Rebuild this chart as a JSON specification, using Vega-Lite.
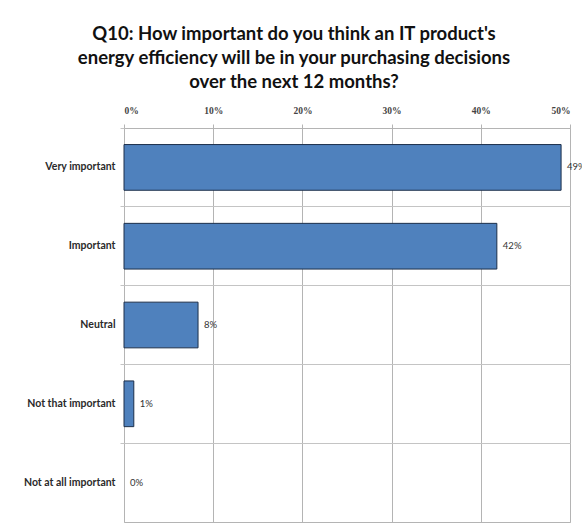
{
  "$schema": "https://vega.github.io/schema/vega-lite/v6.json",
  "width": 446,
  "height": 394,
  "autosize": "none",
  "padding": {"left": 124, "top": 128, "right": 12, "bottom": 7},
  "background": "white",
  "title": {
    "text": ["Q10: How important do you think an IT product's", "energy efficiency will be in your purchasing decisions", "over the next 12 months?"],
    "font": "Lato",
    "fontSize": 18.5,
    "fontWeight": "bold",
    "color": "#111111",
    "lineHeight": 24,
    "anchor": "middle",
    "dx": -53,
    "offset": 14
  },
  "config": {
    "view": {"stroke": "#b4b4b4", "strokeWidth": 1}
  },
  "data": {
    "values": [
      {"category": "Very important", "pct": 0.49},
      {"category": "Important", "pct": 0.418},
      {"category": "Neutral", "pct": 0.083},
      {"category": "Not that important", "pct": 0.011},
      {"category": "Not at all important", "pct": 0.0}
    ]
  },
  "encoding": {
    "y": {
      "field": "category",
      "type": "nominal",
      "sort": null,
      "scale": {"paddingInner": 0, "paddingOuter": 0},
      "axis": {
        "title": null,
        "bandPosition": 0,
        "grid": true,
        "gridColor": "#c4c4c4",
        "domain": false,
        "tickColor": "#c4c4c4",
        "tickSize": 4,
        "labelPadding": 5,
        "labelFont": "Lato",
        "labelFontSize": 10.5,
        "labelFontWeight": "bold",
        "labelColor": "#2a2a2a"
      }
    },
    "x": {
      "field": "pct",
      "type": "quantitative",
      "scale": {"domain": [0, 0.5], "nice": false},
      "axis": {
        "orient": "top",
        "title": null,
        "format": ".0%",
        "values": [0, 0.1, 0.2, 0.3, 0.4, 0.5],
        "grid": true,
        "gridColor": "#b4b4b4",
        "domainColor": "#b4b4b4",
        "tickColor": "#b4b4b4",
        "tickSize": 4,
        "labelPadding": 9,
        "labelFont": "Liberation Serif",
        "labelFontSize": 9.5,
        "labelFontWeight": "bold",
        "labelColor": "#444444"
      }
    }
  },
  "layer": [
    {
      "mark": {"type": "bar", "height": {"band": 0.58}, "fill": "#4f81bd", "stroke": "#1c2f4a", "strokeWidth": 1},
      "encoding": {
        "strokeOpacity": {"condition": {"test": "datum.pct > 0", "value": 1}, "value": 0}
      }
    },
    {
      "mark": {"type": "text", "align": "left", "baseline": "middle", "dx": 6, "font": "Lato", "fontSize": 9.5, "color": "#333333"},
      "encoding": {"text": {"field": "pct", "type": "quantitative", "format": ".0%"}}
    }
  ]
}
